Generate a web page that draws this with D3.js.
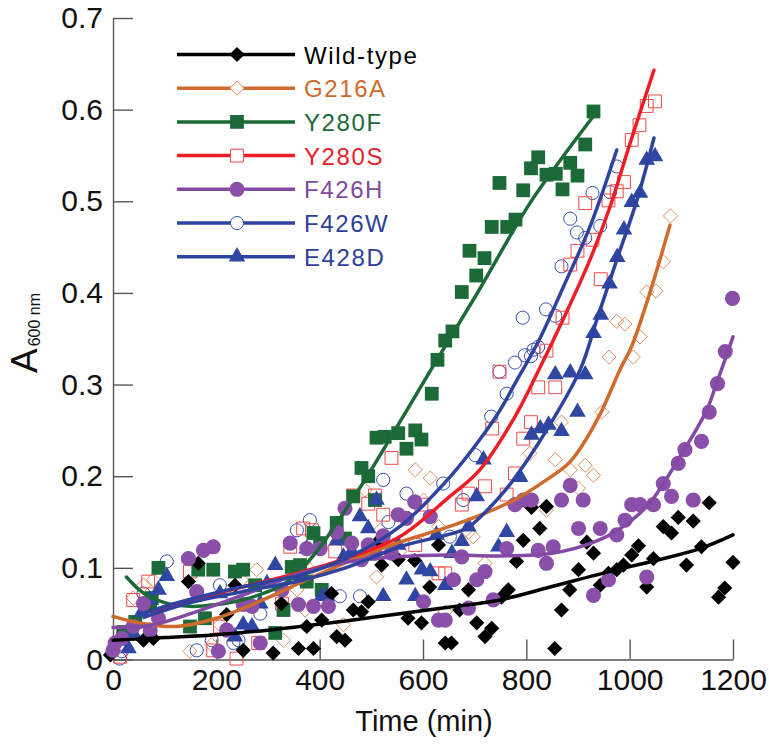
<!DOCTYPE html>
<html>
<head>
<meta charset="utf-8">
<script src="https://cdn.jsdelivr.net/npm/d3@7"></script>
<style>
  body { margin: 0; background: #fff; }
  svg { display: block; font-family: "Liberation Sans", Arial, sans-serif; }
</style>
</head>
<body>
<div id="chart"></div>
<script>
// time (min), A600 readings for each strain
const wildPts = [[-5,0.005],[59,0.021],[78,0.023],[146,0.085],[165,0.105],[220,0.049],[236,0.081],[252,0.010],[310,0.007],[326,0.061],[359,0.012],[375,0.036],[388,0.012],[404,0.043],[423,0.072],[433,0.025],[449,0.021],[465,0.054],[481,0.052],[494,0.063],[510,0.127],[520,0.103],[552,0.109],[571,0.045],[584,0.108],[597,0.040],[613,0.079],[630,0.125],[643,0.018],[655,0.018],[671,0.054],[688,0.076],[704,0.040],[720,0.025],[733,0.034],[752,0.068],[765,0.076],[781,0.107],[794,0.130],[810,0.166],[826,0.143],[839,0.167],[855,0.012],[868,0.054],[884,0.076],[901,0.098],[917,0.128],[930,0.116],[943,0.081],[959,0.094],[975,0.098],[988,0.103],[1004,0.114],[1017,0.124],[1033,0.079],[1046,0.110],[1065,0.145],[1081,0.138],[1094,0.155],[1110,0.103],[1123,0.151],[1139,0.123],[1154,0.171],[1172,0.068],[1184,0.078],[1200,0.106]];
const g216aPts = [[39,0.067],[59,0.081],[78,0.087],[149,0.009],[191,0.016],[207,0.038],[249,0.087],[278,0.098],[330,0.021],[356,0.076],[372,0.054],[381,0.098],[446,0.038],[488,0.185],[510,0.090],[517,0.141],[555,0.118],[585,0.207],[601,0.174],[614,0.198],[630,0.145],[643,0.052],[688,0.139],[697,0.134],[720,0.105],[807,0.225],[839,0.163],[856,0.218],[868,0.259],[885,0.207],[901,0.187],[914,0.212],[930,0.201],[946,0.270],[960,0.330],[975,0.369],[991,0.366],[1007,0.330],[1020,0.352],[1033,0.401],[1051,0.402],[1065,0.434],[1079,0.484]];
const y280fPts = [[20,0.030],[43,0.041],[72,0.058],[75,0.067],[88,0.100],[149,0.036],[165,0.098],[178,0.045],[194,0.098],[236,0.096],[252,0.098],[275,0.081],[314,0.029],[330,0.054],[346,0.101],[362,0.103],[375,0.085],[388,0.138],[401,0.127],[404,0.076],[433,0.149],[449,0.132],[465,0.178],[481,0.209],[494,0.200],[507,0.174],[510,0.242],[526,0.243],[552,0.247],[568,0.230],[585,0.250],[597,0.240],[617,0.290],[628,0.327],[643,0.348],[657,0.358],[675,0.401],[690,0.446],[703,0.419],[719,0.438],[733,0.472],[748,0.520],[763,0.472],[779,0.480],[794,0.512],[809,0.536],[823,0.548],[839,0.529],[857,0.530],[870,0.513],[885,0.542],[899,0.528],[914,0.562],[930,0.598]];
const y280sPts = [[14,0.003],[20,0.029],[39,0.065],[68,0.085],[149,0.096],[194,0.010],[207,0.036],[239,0.001],[281,0.018],[327,0.061],[343,0.123],[368,0.143],[385,0.141],[430,0.118],[465,0.179],[494,0.170],[507,0.179],[523,0.158],[539,0.220],[585,0.125],[597,0.169],[630,0.094],[643,0.094],[675,0.169],[688,0.181],[720,0.189],[734,0.252],[748,0.314],[762,0.180],[778,0.203],[794,0.241],[809,0.259],[823,0.297],[839,0.337],[856,0.297],[870,0.373],[885,0.431],[899,0.446],[914,0.498],[928,0.458],[944,0.415],[959,0.501],[975,0.511],[989,0.521],[1004,0.567],[1019,0.583],[1033,0.604],[1049,0.609]];
const f426hPts = [[0,0.010],[4,0.018],[17,0.023],[39,0.036],[59,0.061],[72,0.032],[88,0.045],[146,0.110],[162,0.074],[175,0.119],[194,0.123],[204,0.009],[220,0.032],[252,0.060],[269,0.058],[285,0.018],[327,0.076],[343,0.127],[359,0.060],[375,0.121],[388,0.058],[401,0.121],[417,0.058],[433,0.139],[449,0.165],[462,0.127],[481,0.109],[494,0.125],[507,0.116],[523,0.135],[539,0.116],[552,0.158],[568,0.154],[584,0.172],[601,0.063],[614,0.156],[630,0.043],[643,0.043],[659,0.087],[675,0.112],[688,0.056],[704,0.087],[720,0.096],[736,0.065],[762,0.121],[778,0.169],[794,0.174],[810,0.174],[823,0.119],[839,0.105],[852,0.123],[868,0.174],[885,0.190],[901,0.143],[910,0.174],[930,0.070],[943,0.143],[959,0.087],[975,0.136],[991,0.152],[1004,0.169],[1020,0.169],[1033,0.090],[1046,0.169],[1065,0.192],[1081,0.178],[1094,0.214],[1107,0.229],[1123,0.174],[1139,0.238],[1154,0.270],[1170,0.301],[1185,0.336],[1199,0.394]];
const f426wPts = [[13,0.001],[17,0.009],[59,0.072],[104,0.107],[162,0.010],[191,0.021],[207,0.081],[233,0.018],[243,0.021],[285,0.050],[356,0.141],[381,0.152],[439,0.069],[478,0.069],[523,0.196],[533,0.150],[568,0.181],[639,0.192],[652,0.134],[678,0.174],[701,0.223],[732,0.265],[748,0.314],[762,0.290],[778,0.324],[793,0.373],[797,0.332],[809,0.331],[814,0.338],[823,0.341],[838,0.382],[856,0.375],[868,0.429],[885,0.481],[898,0.466],[914,0.460],[928,0.509],[943,0.473],[962,0.510],[975,0.538]];
const e428dPts = [[30,0.012],[39,0.029],[56,0.052],[72,0.065],[88,0.076],[104,0.091],[207,0.072],[236,0.025],[252,0.038],[269,0.036],[285,0.061],[298,0.083],[314,0.103],[362,0.092],[375,0.121],[404,0.069],[414,0.069],[433,0.130],[446,0.112],[462,0.118],[478,0.156],[494,0.143],[510,0.174],[523,0.069],[552,0.125],[568,0.087],[585,0.069],[598,0.098],[614,0.096],[626,0.136],[643,0.081],[656,0.116],[675,0.129],[688,0.145],[704,0.178],[717,0.218],[746,0.123],[762,0.139],[788,0.199],[810,0.245],[827,0.252],[843,0.256],[856,0.311],[868,0.249],[885,0.313],[899,0.270],[914,0.311],[930,0.356],[944,0.376],[961,0.410],[976,0.439],[989,0.469],[1004,0.499],[1020,0.509],[1033,0.545],[1049,0.549]];

// fitted curves
const wildFit = [[0,0.021],[100,0.024],[200,0.027],[300,0.032],[362,0.036],[450,0.042],[555,0.050],[650,0.057],[749,0.065],[839,0.078],[968,0.097],[1050,0.108],[1136,0.121],[1200,0.136]];
const g216aFit = [[0,0.047],[50,0.040],[123,0.036],[200,0.045],[290,0.065],[375,0.087],[460,0.108],[555,0.128],[640,0.143],[717,0.159],[780,0.175],[839,0.196],[880,0.213],[904,0.230],[943,0.268],[981,0.316],[1004,0.342],[1039,0.400],[1078,0.474]];
const y280fFit = [[26,0.090],[60,0.072],[100,0.062],[150,0.058],[200,0.060],[250,0.065],[300,0.074],[330,0.082],[362,0.097],[400,0.122],[426,0.143],[491,0.199],[555,0.259],[612,0.313],[700,0.395],[807,0.498],[870,0.548],[930,0.593]];
const y280sFit = [[80,0.052],[150,0.064],[250,0.079],[362,0.095],[450,0.110],[555,0.134],[652,0.178],[710,0.207],[775,0.262],[826,0.318],[872,0.372],[923,0.436],[962,0.494],[1000,0.562],[1047,0.643]];
const f426hFit = [[0,0.035],[70,0.037],[150,0.050],[250,0.070],[362,0.094],[450,0.106],[550,0.112],[650,0.114],[750,0.113],[850,0.116],[920,0.126],[968,0.138],[1033,0.167],[1097,0.221],[1149,0.272],[1168,0.301],[1200,0.352]];
const f426wFit = [[50,0.048],[100,0.058],[200,0.073],[300,0.085],[362,0.092],[450,0.110],[555,0.145],[652,0.199],[710,0.240],[749,0.272],[775,0.298],[826,0.350],[872,0.407],[923,0.472],[975,0.556]];
const e428dFit = [[60,0.046],[150,0.062],[250,0.074],[362,0.086],[450,0.100],[555,0.123],[684,0.143],[710,0.155],[749,0.178],[775,0.196],[839,0.250],[904,0.316],[936,0.370],[975,0.436],[1014,0.501],[1047,0.569]];

const xTicks = [0, 200, 400, 600, 800, 1000, 1200];
const yTicks = [0, 0.1, 0.2, 0.3, 0.4, 0.5, 0.6, 0.7];

const width = 769, height = 746;
const narrow = '"Liberation Sans Narrow", "Arial Narrow", "Liberation Sans", sans-serif';
const svg = d3.select('#chart').append('svg')
  .attr('width', width).attr('height', height);

const x = d3.scaleLinear().domain([0, 1200]).range([113, 733]);
const y = d3.scaleLinear().domain([0, 0.7]).range([659.5, 18]);

// square turned 45deg for the diamonds
const diamond = {
  draw(ctx, size) {
    const r = Math.sqrt(size / 2);
    ctx.moveTo(0, -r); ctx.lineTo(r, 0); ctx.lineTo(0, r); ctx.lineTo(-r, 0); ctx.closePath();
  }
};

const series = [
  {name: 'Wild-type', pts: wildPts, fit: wildFit, line: '#000', text: '#000', sym: diamond, size: 115, fill: '#000', stroke: 'none'},
  {name: 'G216A', pts: g216aPts, fit: g216aFit, line: '#cf6b2c', text: '#d0692c', sym: diamond, size: 100, fill: 'none', stroke: '#e0905f'},
  {name: 'Y280F', pts: y280fPts, fit: y280fFit, line: '#1b6a37', text: '#1b6a3a', sym: d3.symbolSquare, size: 190, fill: '#1b6a37', stroke: 'none'},
  {name: 'Y280S', pts: y280sPts, fit: y280sFit, line: '#ee1d26', text: '#e8202a', sym: d3.symbolSquare, size: 165, fill: 'none', stroke: '#f04848'},
  {name: 'F426H', pts: f426hPts, fit: f426hFit, line: '#8349a5', text: '#7d4a9f', sym: d3.symbolCircle, size: 180, fill: '#8a4fa8', stroke: 'none'},
  {name: 'F426W', pts: f426wPts, fit: f426wFit, line: '#2e43a0', text: '#2e3f99', sym: d3.symbolCircle, size: 135, fill: 'none', stroke: '#3a4fae'},
  {name: 'E428D', pts: e428dPts, fit: e428dFit, line: '#2e43a0', text: '#2e3f99', sym: d3.symbolTriangle, size: 120, fill: '#2f47a3', stroke: 'none'}
];

// axes
const axisColor = '#555';
const yAxis = svg.append('g').attr('transform', `translate(${x(0)},0)`)
  .call(d3.axisLeft(y).tickValues(yTicks).tickSizeInner(-20).tickSizeOuter(0).tickPadding(10)
    .tickFormat(d => d === 0 ? '0' : d.toFixed(1)));
const xAxis = svg.append('g').attr('transform', `translate(0,${y(0)})`)
  .call(d3.axisBottom(x).tickValues(xTicks).tickSizeInner(-20).tickSizeOuter(0).tickPadding(9)
    .tickFormat(d3.format('d')));
[xAxis, yAxis].forEach(a => {
  a.selectAll('path, line').attr('stroke', axisColor).attr('stroke-width', 1.4);
  a.selectAll('text').attr('fill', '#111')
    .style('font-family', narrow).style('font-size', '30px');
});

// points first, then curves over them
const drawOrder = [1, 5, 3, 2, 6, 0, 4];
drawOrder.forEach(i => {
  const s = series[i];
  const sym = d3.symbol().type(s.sym).size(s.size);
  svg.append('g').selectAll('path').data(s.pts).join('path')
    .attr('transform', d => `translate(${x(d[0])},${y(d[1])})`)
    .attr('d', sym)
    .attr('fill', s.fill)
    .attr('stroke', s.stroke)
    .attr('stroke-width', 1);
});

const line = d3.line().x(d => x(d[0])).y(d => y(d[1])).curve(d3.curveCatmullRom.alpha(0.5));
[1, 2, 3, 4, 5, 6, 0].forEach(i => {
  const s = series[i];
  svg.append('path').datum(s.fit)
    .attr('d', line).attr('fill', 'none')
    .attr('stroke', s.line).attr('stroke-width', 3.5)
    .attr('stroke-linecap', 'round');
});

// legend
const legend = svg.append('g');
series.forEach((s, i) => {
  const ly = 54.5 + i * 33.7;
  legend.append('line').attr('x1', 177).attr('x2', 295).attr('y1', ly).attr('y2', ly)
    .attr('stroke', s.line).attr('stroke-width', 3.5);
  legend.append('path')
    .attr('transform', `translate(237,${ly})`)
    .attr('d', d3.symbol().type(s.sym).size(s.size)())
    .attr('fill', s.fill === 'none' ? '#fff' : s.fill)
    .attr('stroke', s.stroke).attr('stroke-width', 1);
  legend.append('text').attr('x', 304).attr('y', ly + 9)
    .attr('fill', s.text).style('font-size', '24px').style('letter-spacing', '1.6px')
    .text(s.name);
});

// axis titles
svg.append('text').attr('x', 424).attr('y', 731).attr('text-anchor', 'middle')
  .attr('fill', '#111').style('font-family', narrow).style('font-size', '29px').text('Time (min)');

const yl = svg.append('text').attr('transform', 'translate(37,373) rotate(-90)')
  .attr('fill', '#111').style('font-size', '37px');
yl.append('tspan').text('A');
yl.append('tspan').attr('dx', 2).attr('dy', 3).style('font-size', '16px').text('600 nm');
</script>
</body>
</html>
